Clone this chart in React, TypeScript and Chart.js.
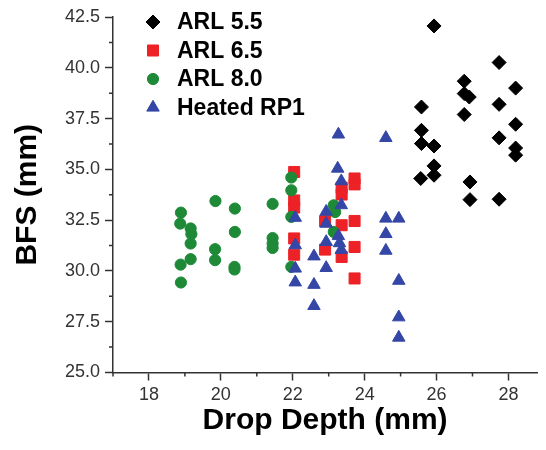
import React, { useEffect, useRef } from "react";
import { Chart, registerables } from "chart.js";
import { drawPoint } from "chart.js/helpers";

Chart.register(...registerables);

const seriesNames = ["ARL 5.5", "ARL 6.5", "ARL 8.0", "Heated RP1"];
const seriesColors = ["#000000", "#ec2227", "#1e8a38", "#3446a6"];
const seriesStyles = ["rectRot", "rect", "circle", "triangle"];
const seriesRadius = [7, 7.8, 5.6, 7.2];

const arl55X = [25.58, 25.58, 25.58, 25.56, 25.93, 25.93, 25.93, 25.93, 26.77, 26.77, 26.91, 26.77, 26.93, 26.93, 27.74, 27.74, 27.74, 27.74, 28.2, 28.2, 28.2, 28.2];
const arl55Y = [38.07, 36.92, 36.27, 34.55, 42.06, 36.15, 35.17, 34.71, 39.34, 38.73, 38.56, 37.7, 34.38, 33.51, 40.26, 38.2, 36.55, 33.53, 39.0, 37.22, 36.05, 35.7];

const arl65X = [22.04, 22.04, 22.04, 22.04, 22.04, 22.9, 22.9, 23.36, 23.36, 23.36, 23.36, 23.72, 23.72, 23.72, 23.72, 23.72];
const arl65Y = [34.87, 33.47, 33.12, 31.6, 30.8, 32.45, 31.05, 34.1, 33.76, 32.25, 30.69, 34.55, 34.26, 32.46, 31.18, 29.63];

const arl80X = [18.89, 18.87, 19.16, 19.18, 19.16, 18.88, 19.16, 18.89, 19.85, 19.84, 19.84, 20.39, 20.39, 20.38, 20.38, 21.44, 21.44, 21.44, 21.44, 21.96, 21.96, 21.96, 21.96, 23.14, 23.18, 23.14];
const arl80Y = [32.87, 32.33, 32.09, 31.81, 31.35, 30.31, 30.58, 29.43, 33.44, 31.07, 30.53, 33.07, 31.92, 30.2, 30.07, 33.3, 31.62, 31.35, 31.13, 34.6, 33.97, 32.66, 30.2, 33.23, 32.9, 31.92];

const rp1X = [22.07, 22.07, 22.07, 22.07, 22.59, 22.59, 22.59, 22.93, 22.93, 22.93, 22.93, 23.27, 23.25, 23.35, 23.35, 23.27, 23.3, 23.35, 24.59, 24.59, 24.59, 24.59, 24.95, 24.95, 24.95, 24.95];
const rp1Y = [32.62, 31.27, 30.12, 29.44, 30.72, 29.32, 28.28, 32.92, 32.33, 31.43, 30.15, 36.72, 35.04, 34.42, 33.24, 31.72, 31.37, 31.04, 36.55, 32.58, 31.82, 31.0, 32.58, 29.52, 27.72, 26.72];

const xTicks = [18, 20, 22, 24, 26, 28];
const xMinorTicks = [17, 19, 21, 23, 25, 27];
const yTicks = [25, 27.5, 30, 32.5, 35, 37.5, 40, 42.5];
const yMinorTicks = [26.25, 28.75, 31.25, 33.75, 36.25, 38.75, 41.25];

const xTitle = "Drop Depth (mm)";
const yTitle = "BFS (mm)";

const FONT = "'Liberation Sans', Arial, sans-serif";
const AXIS_COLOR = "#333333";

const toPoints = (xs: number[], ys: number[]) => xs.map((x, i) => ({ x, y: ys[i] }));

const minorTickPlugin = {
  id: "minorTicks",
  afterDraw(chart: any) {
    const { ctx, chartArea } = chart;
    const xs = chart.scales.x;
    const ys = chart.scales.y;
    ctx.save();
    ctx.strokeStyle = AXIS_COLOR;
    ctx.lineWidth = 1.5;
    ctx.beginPath();
    xMinorTicks.forEach((v) => {
      const px = xs.getPixelForValue(v);
      ctx.moveTo(px, chartArea.bottom);
      ctx.lineTo(px, chartArea.bottom + 4);
    });
    yMinorTicks.forEach((v) => {
      const py = ys.getPixelForValue(v);
      ctx.moveTo(chartArea.left - 4, py);
      ctx.lineTo(chartArea.left, py);
    });
    ctx.stroke();
    ctx.restore();
  },
};

const insideLegendPlugin = {
  id: "insideLegend",
  afterDraw(chart: any) {
    const { ctx, chartArea } = chart;
    ctx.save();
    seriesNames.forEach((name, i) => {
      const cx = chartArea.left + 40;
      const cy = chartArea.top + 5 + i * 28.5;
      ctx.fillStyle = seriesColors[i];
      ctx.strokeStyle = seriesColors[i];
      ctx.lineWidth = 1;
      drawPoint(ctx, { pointStyle: seriesStyles[i], rotation: 0, radius: seriesRadius[i], borderWidth: 1 } as any, cx, cy);
      ctx.fillStyle = "#000000";
      ctx.font = `bold 23px ${FONT}`;
      ctx.textAlign = "left";
      ctx.textBaseline = "middle";
      ctx.fillText(name, chartArea.left + 64, cy + 1);
    });
    ctx.restore();
  },
};

export default function App() {
  const canvasRef = useRef<HTMLCanvasElement | null>(null);

  useEffect(() => {
    if (!canvasRef.current) return;
    const xsAll = [arl55X, arl65X, arl80X, rp1X];
    const ysAll = [arl55Y, arl65Y, arl80Y, rp1Y];
    const orders = [3, 2, 1, 0];
    const chart = new Chart(canvasRef.current, {
      type: "scatter",
      data: {
        datasets: seriesNames.map((name, i) => ({
          label: name,
          data: toPoints(xsAll[i], ysAll[i]),
          pointStyle: seriesStyles[i] as any,
          pointRadius: seriesRadius[i],
          pointHoverRadius: seriesRadius[i],
          backgroundColor: seriesColors[i],
          borderColor: seriesColors[i],
          pointBorderWidth: 1,
          order: orders[i],
        })),
      },
      options: {
        animation: false,
        responsive: false,
        layout: { padding: { top: 17, right: 0, left: 0, bottom: 0 } },
        plugins: {
          legend: { display: false },
          tooltip: { enabled: false },
        },
        scales: {
          x: {
            type: "linear",
            min: 17,
            max: 28.8,
            afterBuildTicks: (s: any) => {
              s.ticks = xTicks.map((v) => ({ value: v }));
            },
            afterFit: (s: any) => {
              s.height = 77.5;
            },
            grid: { drawOnChartArea: false, drawTicks: true, tickLength: 8, tickColor: AXIS_COLOR, tickWidth: 1.5 },
            border: { display: true, color: AXIS_COLOR, width: 1.5 },
            ticks: { font: { family: FONT, size: 18 }, color: "#333333", padding: 4, maxRotation: 0, autoSkip: false },
            title: {
              display: true,
              text: xTitle,
              color: "#000000",
              font: { family: FONT, size: 30, weight: "bold", lineHeight: 1.2 },
              padding: { top: 0, bottom: 11 },
            },
          },
          y: {
            type: "linear",
            min: 25,
            max: 42.5,
            afterBuildTicks: (s: any) => {
              s.ticks = yTicks.map((v) => ({ value: v }));
            },
            afterFit: (s: any) => {
              s.width = 113;
            },
            grid: { drawOnChartArea: false, drawTicks: true, tickLength: 8, tickColor: AXIS_COLOR, tickWidth: 1.5 },
            border: { display: true, color: AXIS_COLOR, width: 1.5 },
            ticks: {
              font: { family: FONT, size: 18 },
              color: "#333333",
              padding: 5,
              autoSkip: false,
              callback: (v: any) => Number(v).toFixed(1),
            },
            title: {
              display: true,
              text: yTitle,
              color: "#000000",
              font: { family: FONT, size: 30, weight: "bold", lineHeight: 1.2 },
              padding: { top: 10, bottom: 0 },
            },
          },
        },
      },
      plugins: [minorTickPlugin, insideLegendPlugin],
    });
    return () => chart.destroy();
  }, []);

  return (
    <div style={{ position: "absolute", left: 0, top: 0, width: 546, height: 450, background: "#ffffff" }}>
      <canvas ref={canvasRef} width={546} height={450} style={{ width: 546, height: 450, display: "block" }} />
    </div>
  );
}
